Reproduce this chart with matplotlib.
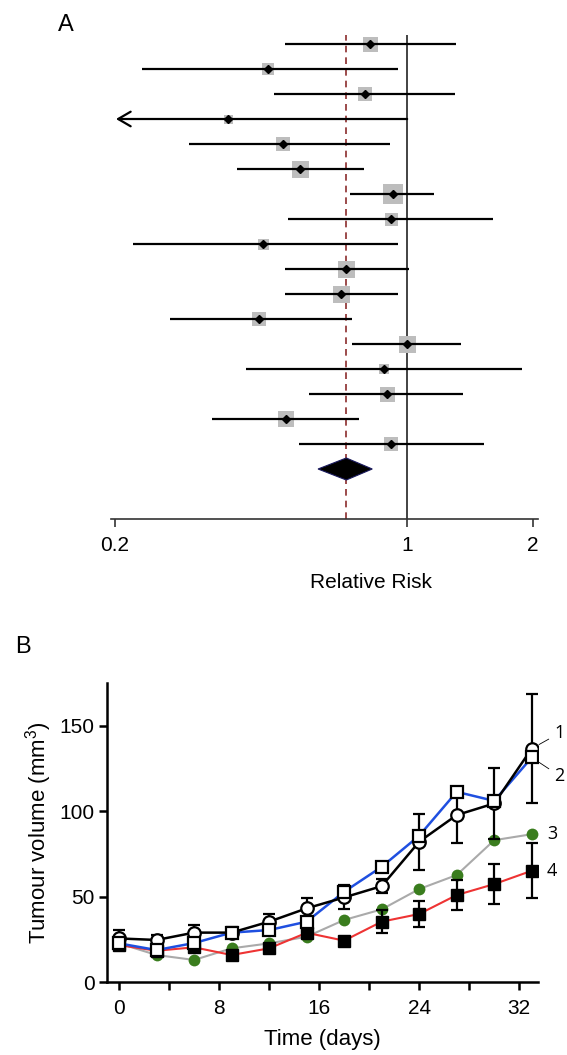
import numpy as np
import matplotlib
matplotlib.use('Agg')
import matplotlib.pyplot as plt
from matplotlib.patches import Polygon
from matplotlib.ticker import NullLocator

plt.rcParams['font.family'] = ['Liberation Sans', 'DejaVu Sans']
plt.rcParams['mathtext.fontset'] = 'custom'
plt.rcParams['mathtext.rm'] = 'Liberation Sans'
plt.rcParams['mathtext.it'] = 'Liberation Sans'

# ---- panel A: forest plot data ----
rr = [0.816, 0.465, 0.793, 0.373, 0.505, 0.555, 0.926, 0.916, 0.452,
      0.715, 0.695, 0.442, 1.0, 0.881, 0.896, 0.514, 0.916]
ci_lo = [0.511, 0.232, 0.481, 0.201, 0.301, 0.392, 0.731, 0.519, 0.221,
         0.511, 0.511, 0.271, 0.739, 0.412, 0.583, 0.342, 0.551]
ci_hi = [1.310, 0.952, 1.302, 1.0, 0.911, 0.789, 1.160, 1.606, 0.952,
         1.011, 0.952, 0.739, 1.346, 1.884, 1.361, 0.768, 1.528]
weights = [15, 12, 14, 9, 14, 17, 20, 13, 11, 17, 17, 14, 17, 10, 15, 16, 14]
truncated = [False, False, False, True] + [False] * 13
pooled, pooled_lo, pooled_hi = 0.715, 0.612, 0.825

# ---- panel B: tumour growth data ----
days = [0, 3, 6, 9, 12, 15, 18, 21, 24, 27, 30, 33]
s1 = [25.5, 24.6, 28.9, 28.9, 35.3, 43.1, 49.5, 56.1, 82.1, 97.7, 104.5, 136.6]
s1_err = [5, 3, 4.5, 3, 4.5, 6, 7, 4, 16.5, 16.6, 21, 31.7]
s2 = [22.6, 18.7, 22.8, 28.9, 30.4, 35.3, 52.8, 67.4, 85.6, 111.3, 106.0, 131.4]
s3 = [22.6, 15.8, 12.9, 19.7, 22.6, 26.5, 36.3, 42.5, 54.4, 62.6, 83.0, 86.5]
s4 = [21.6, 18.3, 20.3, 15.8, 19.7, 28.8, 24.2, 35.3, 39.8, 50.9, 57.3, 65.1]
s4_err = [2, 3, 3, 2, 2, 3, 2, 6.8, 7.4, 9, 11.7, 16]

W, H = 567, 1055
fig = plt.figure(figsize=(W / 100, H / 100), dpi=100)


def px_axes(l, t, r, b):
    return fig.add_axes([l / W, 1 - b / H, (r - l) / W, (b - t) / H])


# ================= Panel A =================
axA = px_axes(111, 35, 538, 519)
axA.set_xscale('log')
axA.set_xlim(0.1956, 2.056)
axA.set_ylim(19.0, -0.36)
for sp in ['top', 'right', 'left']:
    axA.spines[sp].set_visible(False)
axA.spines['bottom'].set_linewidth(1.2)
axA.spines['bottom'].set_color('#333333')
axA.set_xticks([0.2, 1, 2])
axA.set_xticklabels(['0.2', '1', '2'])
axA.xaxis.set_minor_locator(NullLocator())
axA.tick_params(axis='x', direction='out', length=6, width=1.2,
                color='#333333', labelsize=15, pad=6)
axA.set_yticks([])

axA.axvline(1, color='#222222', lw=1.2, zorder=1)
axA.axvline(pooled, color='#8b2c2c', lw=1.2, ls=(0, (4, 3)), zorder=1)

rows = np.arange(len(rr))
axA.scatter(rr, rows, marker='s', s=(np.array(weights) * 0.72) ** 2,
            color='#bdbdbd', linewidths=0, zorder=2)
for i in rows:
    if truncated[i]:
        axA.annotate('', xy=(ci_lo[i], i), xytext=(ci_hi[i], i),
                     arrowprops=dict(arrowstyle='->,head_length=0.6,head_width=0.35',
                                     lw=1.6, color='black', mutation_scale=15,
                                     shrinkA=0, shrinkB=0), zorder=3)
    else:
        axA.hlines(i, ci_lo[i], ci_hi[i], color='black', lw=1.6, zorder=3)
axA.plot(rr, rows, 'D', ms=4, color='black', zorder=4)

yd = len(rr)
axA.add_patch(Polygon([(pooled_lo, yd), (pooled, yd - 0.44),
                       (pooled_hi, yd), (pooled, yd + 0.44)],
                      closed=True, facecolor='black', edgecolor='#1a1a5e',
                      lw=0.8, zorder=4))

axA.set_xlabel('Relative Risk', fontsize=15)
axA.xaxis.set_label_coords(0.609, -0.112)

fig.text(58 / W, 1 - 25 / H, 'A', fontsize=17, va='center', ha='left')

# ================= Panel B =================
axB = px_axes(107, 683, 538, 982)
axB.set_xlim(-0.96, 33.5)
axB.set_ylim(0, 175)
for sp in ['top', 'right']:
    axB.spines[sp].set_visible(False)
for sp in ['left', 'bottom']:
    axB.spines[sp].set_linewidth(1.8)
axB.set_xticks([0, 8, 16, 24, 32])
axB.set_xticks([4, 12, 20, 28], minor=True)
axB.set_yticks([0, 50, 100, 150])
axB.tick_params(axis='both', which='both', direction='out', length=6,
                width=1.8, labelsize=15)
axB.tick_params(axis='x', which='both', pad=6)
axB.tick_params(axis='y', pad=3)

axB.plot(days, s3, '-', color='#aaaaaa', lw=1.5, zorder=2)
axB.plot(days, s3, 'o', color='#3a7d1e', ms=8.5, mec='none', zorder=3)

axB.errorbar(days, s4, yerr=s4_err, fmt='none', ecolor='black',
             elinewidth=1.6, capsize=4, capthick=1.6, zorder=3)
axB.plot(days, s4, '-', color='#ee3333', lw=1.5, zorder=3)
axB.plot(days, s4, 's', color='black', ms=8.5, zorder=4)

axB.plot(days, s2, '-', color='#1f4fe0', lw=1.8, zorder=5)
axB.errorbar(days, s1, yerr=s1_err, fmt='none', ecolor='black',
             elinewidth=1.6, capsize=4, capthick=1.6, zorder=5)
axB.plot(days, s1, '-', color='black', lw=1.8, zorder=5)
axB.plot(days, s1, 'o', mfc='white', mec='black', mew=1.6, ms=9, zorder=6)
axB.plot(days, s2, 's', mfc='white', mec='black', mew=1.6, ms=9, zorder=6)

axB.set_xlabel('Time (days)', fontsize=16, labelpad=8)
axB.set_ylabel(r'Tumour volume (mm$^3$)', fontsize=16, labelpad=4)

lab_kw = dict(textcoords='offset points', fontsize=13, family=['Open Sans', 'DejaVu Sans'],
              ha='left', va='center', annotation_clip=False)
axB.annotate('1', xy=(days[-1], s1[-1]), xytext=(16, 11),
             arrowprops=dict(arrowstyle='-', lw=0.6, color='black', shrinkA=2, shrinkB=6),
             **lab_kw)
axB.annotate('2', xy=(days[-1], s2[-1]), xytext=(16, -13),
             arrowprops=dict(arrowstyle='-', lw=0.6, color='black', shrinkA=2, shrinkB=6),
             **lab_kw)
axB.annotate('3', xy=(days[-1], s3[-1]), xytext=(11, 0), **lab_kw)
axB.annotate('4', xy=(days[-1], s4[-1]), xytext=(11, 0), **lab_kw)

fig.text(15 / W, 1 - 647 / H, 'B', fontsize=17, va='center', ha='left')

fig.savefig('out.png', dpi=100)
